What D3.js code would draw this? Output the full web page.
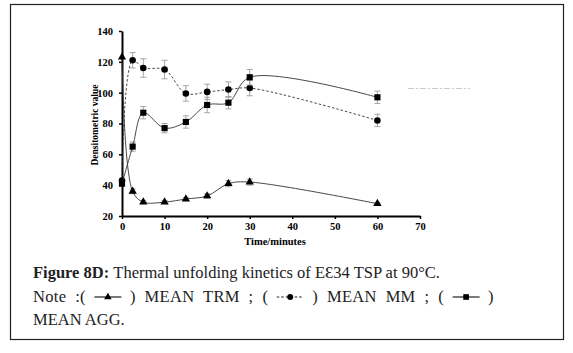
<!DOCTYPE html>
<html>
<head>
<meta charset="utf-8">
<script src="https://cdn.jsdelivr.net/npm/d3@7"></script>
<style>
  body { margin: 0; background: #fff; }
  svg { display: block; }
</style>
</head>
<body>
<svg class="fig" width="573" height="353"></svg>
<script>
// data
const times = [0, 2.5, 5, 10, 15, 20, 25, 30, 60];
const trm = [123, 36, 29, 29, 31, 33, 41, 42, 28];
const trmErr = [0, 1.5, 1, 1, 1, 1.5, 2, 2, 0.5];
const mm = [43, 121, 116, 115, 99.5, 100.5, 102, 103, 82];
const mmErr = [0, 5, 6, 6, 5, 5, 5, 5, 4];
const agg = [41, 65, 87, 77, 81, 92, 93.5, 110, 97];
const aggErr = [0, 3, 4, 3, 4, 5, 4, 5, 4];
const xTicks = [0, 10, 20, 30, 40, 50, 60, 70];
const yTicks = [20, 40, 60, 80, 100, 120, 140];

(function figIIFE(){
    const svg = d3.select("svg.fig");
    const serif = "Liberation Serif, Times New Roman, serif";

    svg.append("rect")
        .attr("x", 10.5).attr("y", 4.5)
        .attr("width", 553).attr("height", 335)
        .attr("fill", "none").attr("stroke", "#222").attr("stroke-width", 1.2);

    const x = d3.scaleLinear().domain([0, 70]).range([122, 420]);
    const y = d3.scaleLinear().domain([20, 140]).range([216, 31]);

    // axes
    const xAxis = svg.append("g")
        .attr("transform", "translate(0," + y(20) + ")")
        .call(d3.axisBottom(x).tickValues(xTicks).tickSize(3).tickPadding(4).tickSizeOuter(0));
    const yAxis = svg.append("g")
        .attr("transform", "translate(" + x(0) + ",0)")
        .call(d3.axisLeft(y).tickValues(yTicks).tickSize(3).tickPadding(6).tickSizeOuter(0));
    [xAxis, yAxis].forEach(function(a) {
        a.attr("font-family", null).attr("font-size", null);
        a.select(".domain").attr("stroke", "#000").attr("stroke-width", 2);
        a.selectAll(".tick line").attr("stroke", "#000").attr("stroke-width", 1.5);
        a.selectAll(".tick text")
            .attr("fill", "#000")
            .style("font-family", serif)
            .style("font-size", "10.5px")
            .style("font-weight", "bold");
    });

    svg.append("text")
        .attr("transform", "translate(98,125) rotate(-90)")
        .attr("text-anchor", "middle")
        .style("font-family", serif).style("font-weight", "bold").style("font-size", "9.5px")
        .text("Densitometric value");
    svg.append("text")
        .attr("x", 275).attr("y", 245)
        .attr("text-anchor", "middle")
        .style("font-family", serif).style("font-weight", "bold").style("font-size", "10.5px")
        .text("Time/minutes");

    // faint leftover legend line
    svg.append("line")
        .attr("x1", 408).attr("x2", 470).attr("y1", 88.5).attr("y2", 88.5)
        .attr("stroke", "#ccc").attr("stroke-width", 1).attr("stroke-dasharray", "6,2,2,2");

    const line = d3.line()
        .x(function(d) { return x(d[0]); })
        .y(function(d) { return y(d[1]); })
        .curve(d3.curveCatmullRom.alpha(0.5));

    const series = [
        {vals: trm, err: trmErr, dash: null, shape: d3.symbolTriangle, size: 30},
        {vals: mm, err: mmErr, dash: "2.5,2", shape: d3.symbolCircle, size: 34},
        {vals: agg, err: aggErr, dash: null, shape: d3.symbolSquare, size: 38}
    ];

    series.forEach(function(s) {
        const pts = times.map(function(t, i) { return [t, s.vals[i], s.err[i]]; });

        const eb = svg.append("g").attr("stroke", "#a5a5a5").attr("stroke-width", 1);
        pts.filter(function(d) { return d[2] > 0; }).forEach(function(d) {
            const cx = x(d[0]);
            eb.append("line").attr("x1", cx).attr("x2", cx)
                .attr("y1", y(d[1] - d[2])).attr("y2", y(d[1] + d[2]));
            [d[1] - d[2], d[1] + d[2]].forEach(function(v) {
                eb.append("line").attr("x1", cx - 3).attr("x2", cx + 3)
                    .attr("y1", y(v)).attr("y2", y(v));
            });
        });

        svg.append("path")
            .datum(pts)
            .attr("d", line)
            .attr("fill", "none")
            .attr("stroke", "#333")
            .attr("stroke-width", 0.9)
            .attr("stroke-dasharray", s.dash);

        svg.selectAll(null)
            .data(pts)
            .enter()
            .append("path")
            .attr("transform", function(d) { return "translate(" + x(d[0]) + "," + y(d[1]) + ")"; })
            .attr("d", d3.symbol().type(s.shape).size(s.size))
            .attr("fill", "#000");
    });

    // caption
    const capSize = "16.5px";
    svg.append("text")
        .attr("x", 33).attr("y", 278)
        .style("font-family", serif).style("font-size", capSize).attr("fill", "#222")
        .call(function(t) {
            t.append("tspan").style("font-weight", "bold").text("Figure 8D: ");
            t.append("tspan").text("Thermal unfolding kinetics of E\u019034 TSP at 90°C.");
        });

    // note line with inline legend icons
    const parts = [
        {text: "Note :("}, {icon: 0}, {text: ") MEAN TRM ; ("}, {icon: 1},
        {text: ") MEAN MM ; ("}, {icon: 2}, {text: ")"}
    ];
    let cx = 33;
    const ny = 302;
    parts.forEach(function(p) {
        if (p.icon !== undefined) {
            const s = series[p.icon];
            cx += 8.5;
            svg.append("line")
                .attr("x1", cx).attr("x2", cx + 27).attr("y1", ny - 5).attr("y2", ny - 5)
                .attr("stroke", "#222").attr("stroke-width", 1.2)
                .attr("stroke-dasharray", s.dash);
            svg.append("path")
                .attr("transform", "translate(" + (cx + 13.5) + "," + (ny - 5) + ")")
                .attr("d", d3.symbol().type(s.shape).size(s.size - 6))
                .attr("fill", "#000");
            cx += 27 + 8.5;
        } else {
            const t = svg.append("text")
                .attr("x", cx).attr("y", ny)
                .style("font-family", serif).style("font-size", capSize).attr("fill", "#222")
                .style("word-spacing", "4.5px").style("letter-spacing", "0.3px")
                .text(p.text);
            cx += t.node().getComputedTextLength();
        }
    });
    svg.append("text")
        .attr("x", 33).attr("y", 325)
        .style("font-family", serif).style("font-size", capSize).attr("fill", "#222")
        .text("MEAN AGG.");
})();
</script>
</body>
</html>
